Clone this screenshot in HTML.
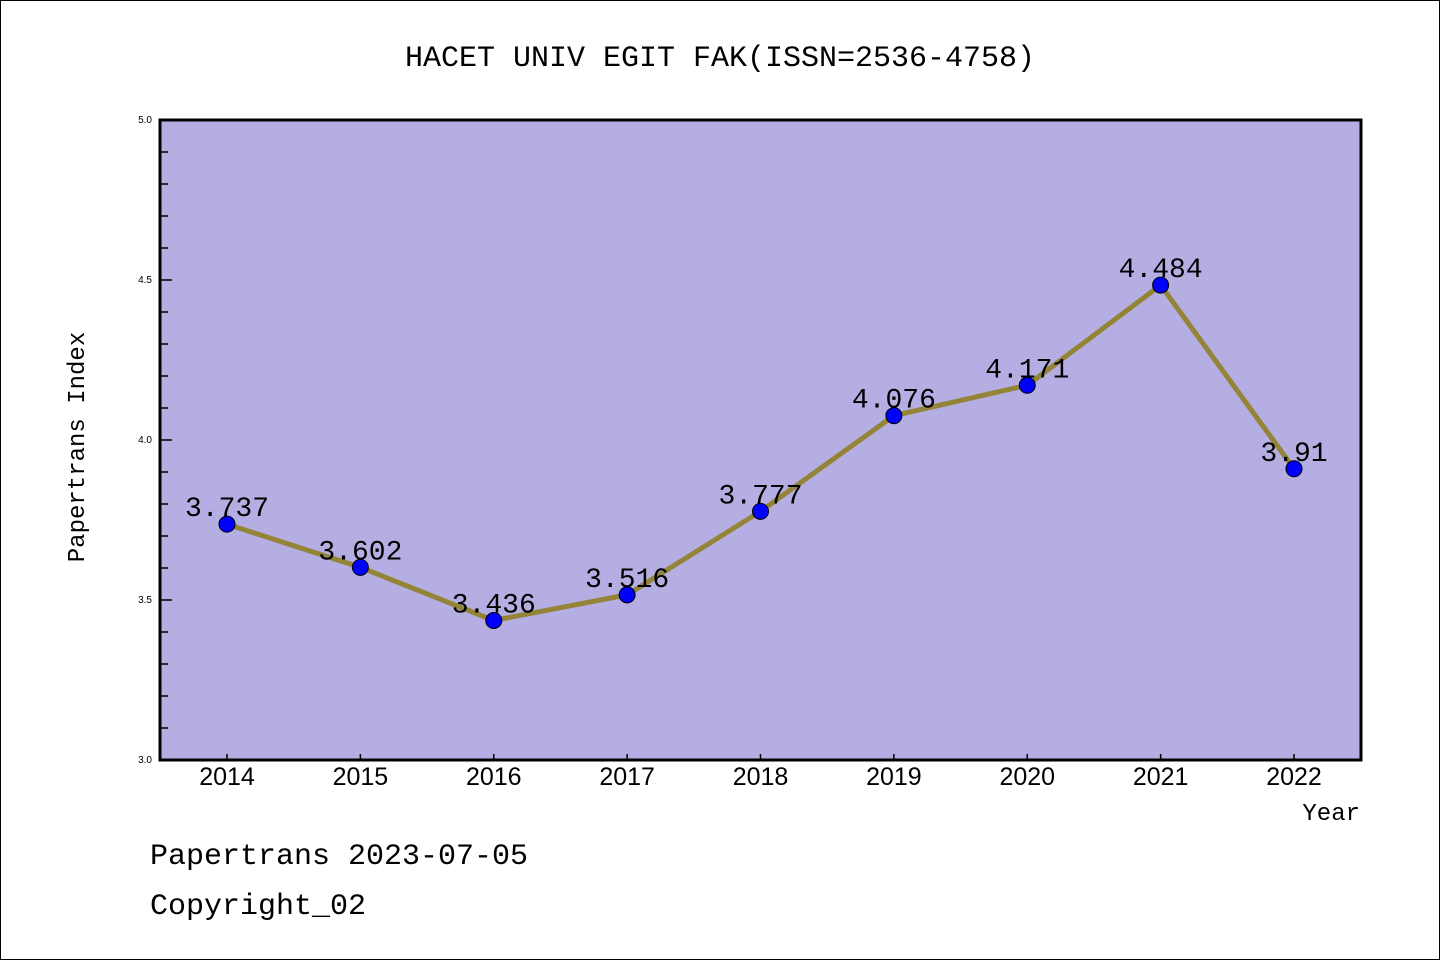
<!DOCTYPE html>
<html><head><meta charset="utf-8"><style>
body{margin:0;background:#fff}
svg{display:block;font-family:"Liberation Mono","DejaVu Sans Mono",monospace}
</style></head><body>
<svg id="c" width="1440" height="960" xmlns="http://www.w3.org/2000/svg">
<rect x="0.5" y="0.5" width="1439" height="959" fill="#fff" stroke="#000"/>
<text x="720" y="66" text-anchor="middle" font-size="30">HACET UNIV EGIT FAK(ISSN=2536-4758)</text>
<rect x="160" y="120" width="1201" height="640" fill="#b5aee2"/>
<g id="ticks"></g>
<polyline id="line" fill="none" stroke="#938437" stroke-width="5"/>
<g id="pts"></g>
<rect x="160" y="120" width="1201" height="640" fill="none" stroke="#000" stroke-width="3"/>
<text transform="translate(84,447) rotate(-90)" text-anchor="middle" font-size="24">Papertrans Index</text>
<text x="1360" y="820" text-anchor="end" font-size="24">Year</text>
<text x="150" y="864" font-size="30">Papertrans 2023-07-05</text>
<text x="150" y="914" font-size="30">Copyright_02</text>
</svg>
<script>
const years=["2014","2015","2016","2017","2018","2019","2020","2021","2022"];
const values=[3.737,3.602,3.436,3.516,3.777,4.076,4.171,4.484,3.91];
const valueLabels=["3.737","3.602","3.436","3.516","3.777","4.076","4.171","4.484","3.91"];
const yTickLabels=["3.0","3.5","4.0","4.5","5.0"];
const NS="http://www.w3.org/2000/svg";
const x=i=>227+i*(1294-227)/(years.length-1);
const y=v=>760-(v-3)*320;
function mk(t,a,p){const e=document.createElementNS(NS,t);for(const k in a)e.setAttribute(k,a[k]);p.appendChild(e);return e;}
const tk=document.getElementById('ticks'),pts=document.getElementById('pts');
for(let k=0;k<=20;k++){const v=3+k*0.1,maj=k%5===0;
 const l=mk('line',{x1:160,x2:maj?172:168,y1:y(v),y2:y(v),stroke:'#000','stroke-width':1.5},tk);
 
 }
yTickLabels.forEach(s=>{const t=mk('text',{x:152,y:y(+s)+3,'text-anchor':'end','font-size':10,'font-family':'Liberation Sans,sans-serif'},tk);t.textContent=s;
 
 });
years.forEach((yr,i)=>{const l=mk('line',{x1:x(i),x2:x(i),y1:760,y2:754,stroke:'#000','stroke-width':1.5},tk);
 
 
 const t=mk('text',{x:x(i),y:785,'text-anchor':'middle','font-size':25,'font-family':'Liberation Sans,sans-serif'},tk);t.textContent=yr;
 
 });
document.getElementById('line').setAttribute('points',values.map((v,i)=>x(i)+','+y(v)).join(' '));
values.forEach((v,i)=>{const c=mk('circle',{cx:x(i),cy:y(v),r:8,fill:'#0000ff',stroke:'#000','stroke-width':1},pts);
 
 
 const t=mk('text',{x:x(i),y:y(v)-8,'text-anchor':'middle','font-size':28},pts);t.textContent=valueLabels[i];
 
 });
</script>
</body></html>
